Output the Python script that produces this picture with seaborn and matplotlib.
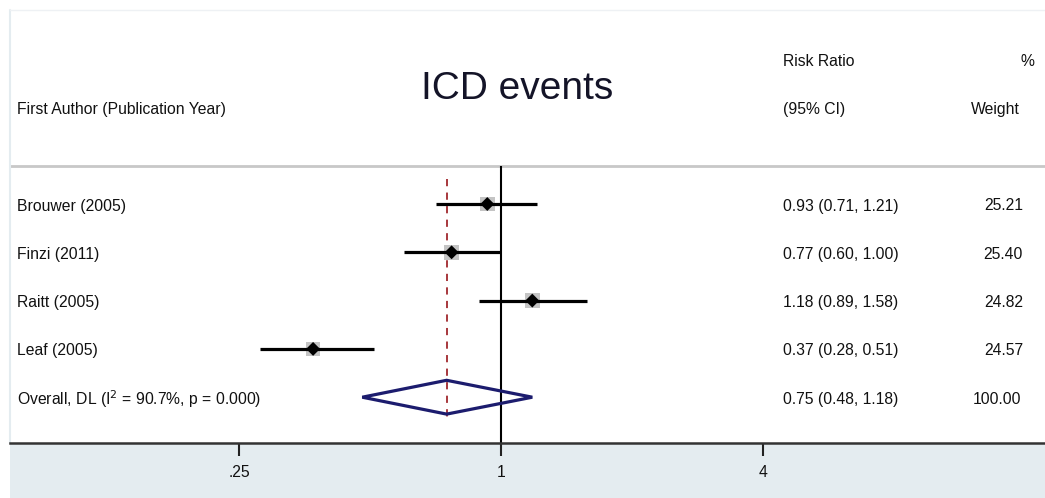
import numpy as np
import pandas as pd
import matplotlib
matplotlib.use("Agg")
import matplotlib.pyplot as plt
from matplotlib.patches import Rectangle
import seaborn as sns

# ---- data ----
studies = ["Brouwer (2005)", "Finzi (2011)", "Raitt (2005)", "Leaf (2005)"]
rr = [0.93, 0.77, 1.18, 0.37]
ci_low = [0.71, 0.60, 0.89, 0.28]
ci_high = [1.21, 1.00, 1.58, 0.51]
weights = ["25.21", "25.40", "24.82", "24.57"]
ci_text = ["0.93 (0.71, 1.21)", "0.77 (0.60, 1.00)", "1.18 (0.89, 1.58)", "0.37 (0.28, 0.51)"]
overall_label = "Overall, DL (I$^2$ = 90.7%, p = 0.000)"
overall_rr = 0.75
overall_low = 0.48
overall_high = 1.18
overall_text = "0.75 (0.48, 1.18)"
overall_weight = "100.00"
tick_vals = [0.25, 1, 4]
tick_labels = [".25", "1", "4"]
title = "ICD events"

sns.set_theme(style="white")
plt.rcParams['font.family'] = ['Liberation Sans', 'DejaVu Sans']

W, H = 1045, 498
fig = plt.figure(figsize=(W / 100, H / 100), dpi=100, facecolor="white")
# bottom band (graph region colour)
fig.patches.append(Rectangle((10 / W, 0), 1, 55 / H, transform=fig.transFigure,
                             facecolor="#e4ecf0", edgecolor="none", zorder=-5))

ax = fig.add_axes([10 / W, 55 / H, 1035 / W, 433 / H])
ax.set_zorder(1)
ax.set_facecolor("white")
ax.set_xscale("log")
ppl = 262 / np.log(4)
ax.set_xlim(np.exp((10 - 501) / ppl), np.exp((1045 - 501) / ppl))
row_h = 48.3
ax.set_ylim((443 - 204) / row_h, (10 - 204) / row_h)

df = pd.DataFrame({"study": studies, "rr": rr, "lo": ci_low, "hi": ci_high,
                   "row": np.arange(len(studies))})
n = len(studies)
ov_row = n

# header separator
ax.axhline((166 - 204) / row_h, color="#c8c8c8", lw=2, zorder=1)

# null line
ax.vlines(1, (166 - 204) / row_h, (443 - 204) / row_h, color="black", lw=1.5, zorder=2)
# overall dashed line
ax.vlines(overall_rr, -0.52, ov_row + 0.45, color="#a0282d", lw=1.3,
          linestyles=(0, (4, 3.5)), zorder=2)

# weight boxes
sns.scatterplot(data=df, x="rr", y="row", marker="s", s=110, color="#c4c4c4",
                edgecolor="none", ax=ax, zorder=3, legend=False)
# CI lines
ax.hlines(df["row"], df["lo"], df["hi"], color="black", lw=2.3, zorder=4)
# point estimates
sns.scatterplot(data=df, x="rr", y="row", marker="D", s=50, color="black",
                edgecolor="none", ax=ax, zorder=5, legend=False)

# overall diamond
dh = 0.35
ax.fill([overall_low, overall_rr, overall_high, overall_rr],
        [ov_row, ov_row - dh, ov_row, ov_row + dh],
        facecolor="none", edgecolor="#1c1c6e", lw=2.3, zorder=4)

# texts
tr = ax.get_yaxis_transform()
def fx(px):
    return (px - 10) / 1035

off = 2 / row_h
fs = 11.3
tc = "#111111"
for i, s in enumerate(studies):
    ax.text(fx(17), i + off, s, transform=tr, ha="left", va="center", fontsize=fs, color=tc)
    ax.text(fx(783), i + off, ci_text[i], transform=tr, ha="left", va="center", fontsize=fs, color=tc)
    ax.text(fx(1023), i + off, weights[i], transform=tr, ha="right", va="center", fontsize=fs, color=tc)
ax.text(fx(17), ov_row + off, overall_label, transform=tr, ha="left", va="center", fontsize=fs, color=tc)
ax.text(fx(783), ov_row + off, overall_text, transform=tr, ha="left", va="center", fontsize=fs, color=tc)
ax.text(fx(1021), ov_row + off, overall_weight, transform=tr, ha="right", va="center", fontsize=fs, color=tc)

hy1 = (60 - 204) / row_h + off
hy2 = (108 - 204) / row_h + off
ax.text(fx(17), hy2, "First Author (Publication Year)", transform=tr, ha="left", va="center",
        fontsize=fs, color=tc)
ax.text(fx(783), hy1, "Risk Ratio", transform=tr, ha="left", va="center", fontsize=fs, color=tc)
ax.text(fx(783), hy2, "(95% CI)", transform=tr, ha="left", va="center", fontsize=fs, color=tc)
ax.text(fx(1034), hy1, "%", transform=tr, ha="right", va="center", fontsize=fs, color=tc)
ax.text(fx(1020), hy2, "Weight", transform=tr, ha="right", va="center", fontsize=fs, color=tc)
ax.text(fx(517), (89 - 204) / row_h, title, transform=tr, ha="center", va="center",
        fontsize=28, color="#141428")

# axes styling
ax.set_xticks(tick_vals)
ax.set_xticklabels(tick_labels, fontsize=fs, color=tc)
ax.minorticks_off()
ax.set_yticks([])
ax.set_xlabel("")
ax.set_ylabel("")
ax.tick_params(axis="x", which="major", direction="out", length=9, width=1.5,
               color="#222222", pad=7, bottom=True, labelbottom=True)
for side in ["top", "left", "right"]:
    ax.spines[side].set_visible(False)
ax.spines["bottom"].set_visible(True)
ax.spines["bottom"].set_color("#333333")
ax.spines["bottom"].set_linewidth(1.8)
# faint panel border
ax.plot([0, 0], [0, 1], transform=ax.transAxes, color="#e4ecf0", lw=1.5, clip_on=False)
ax.plot([0, 1], [1, 1], transform=ax.transAxes, color="#eef1f4", lw=1, clip_on=False)

fig.savefig("out.png", dpi=100, facecolor="white")
